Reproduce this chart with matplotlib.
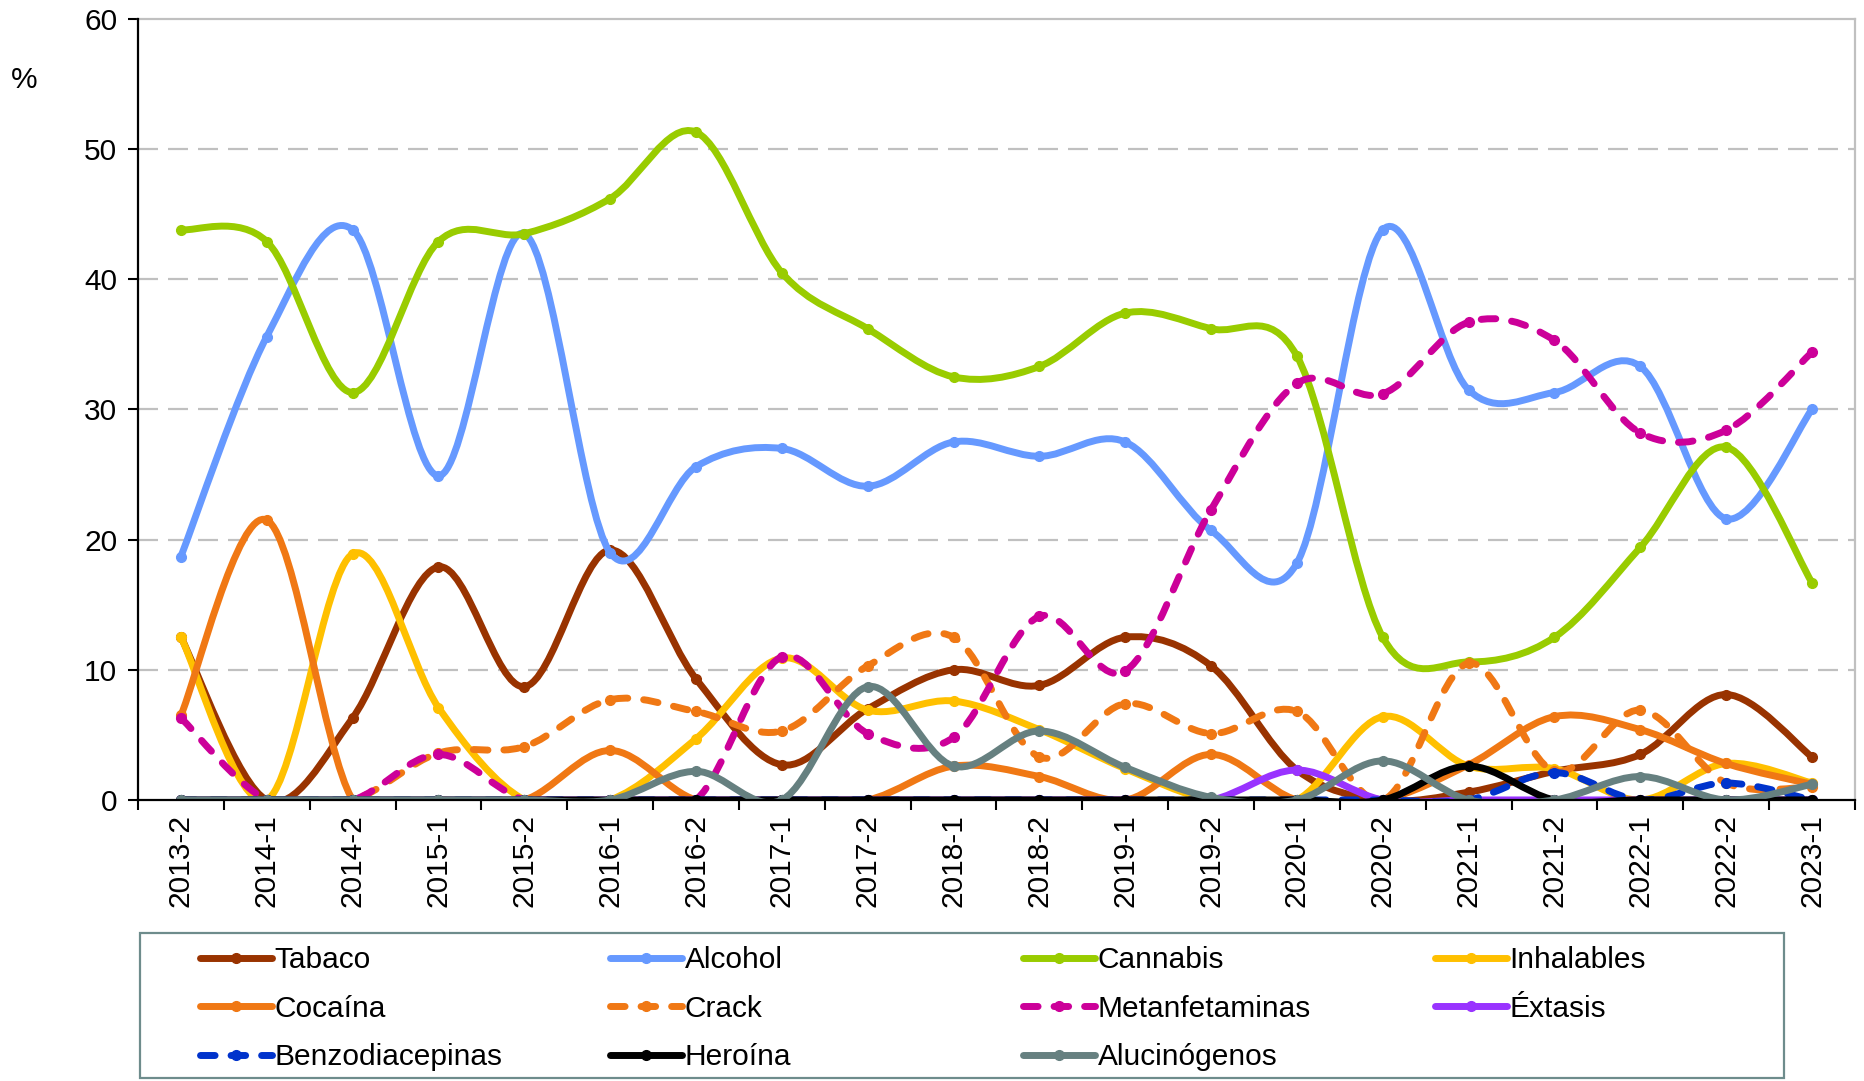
import matplotlib
matplotlib.use('Agg')
import numpy as np
import matplotlib.pyplot as plt
from matplotlib.path import Path
from matplotlib.patches import PathPatch, Rectangle
from matplotlib.lines import Line2D

plt.rcParams['font.family'] = ['Liberation Sans', 'DejaVu Sans']

# Datos
periodos = ['2013-2', '2014-1', '2014-2', '2015-1', '2015-2', '2016-1', '2016-2',
            '2017-1', '2017-2', '2018-1', '2018-2', '2019-1', '2019-2', '2020-1',
            '2020-2', '2021-1', '2021-2', '2022-1', '2022-2', '2023-1']

tabaco = [12.5, 0, 6.3, 17.9, 8.7, 19.2, 9.3, 2.7, 7.0, 10.0, 8.8, 12.5, 10.3, 2.3,
          0, 0.6, 2.2, 3.5, 8.1, 3.3]
alcohol = [18.7, 35.6, 43.8, 24.9, 43.5, 19.0, 25.6, 27.0, 24.1, 27.5, 26.4, 27.5, 20.7,
           18.2, 43.8, 31.5, 31.3, 33.3, 21.6, 30.0]
cannabis = [43.8, 42.9, 31.3, 42.9, 43.5, 46.2, 51.3, 40.5, 36.2, 32.5, 33.3, 37.4, 36.2,
            34.1, 12.5, 10.6, 12.5, 19.4, 27.1, 16.7]
inhalables = [12.5, 0, 18.9, 7.1, 0, 0, 4.7, 10.9, 6.9, 7.6, 5.4, 2.4, 0, 0, 6.4, 2.6,
              2.4, 0, 2.8, 1.3]
cocaina = [6.5, 21.5, 0, 0, 0, 3.8, 0, 0, 0, 2.6, 1.8, 0, 3.5, 0, 0, 2.7, 6.4, 5.4, 2.8, 1.2]
crack = [0, 0, 0, 3.6, 4.1, 7.7, 6.8, 5.3, 10.3, 12.5, 3.3, 7.4, 5.1, 6.8, 0, 10.5, 2.2,
         6.9, 1.3, 1.0]
metanfetaminas = [6.3, 0, 0, 3.5, 0, 0, 0, 11.0, 5.1, 4.8, 14.1, 9.9, 22.3, 32.0, 31.2,
                  36.7, 35.3, 28.2, 28.4, 34.4]
extasis = [0, 0, 0, 0, 0, 0, 0, 0, 0, 0, 0, 0, 0, 2.3, 0, 0, 0, 0, 0, 0]
benzodiacepinas = [0, 0, 0, 0, 0, 0, 0, 0, 0, 0, 0, 0, 0, 0, 0, 0, 2.1, 0, 1.3, 0]
heroina = [0, 0, 0, 0, 0, 0, 0, 0, 0, 0, 0, 0, 0, 0, 0, 2.6, 0, 0, 0, 0]
alucinogenos = [0, 0, 0, 0, 0, 0, 2.2, 0, 8.7, 2.6, 5.3, 2.5, 0.2, 0, 3.0, 0, 0, 1.8, 0, 1.2]

series = [
    ('Tabaco', tabaco, '#993300', '-'),
    ('Alcohol', alcohol, '#6699FF', '-'),
    ('Cannabis', cannabis, '#99CC00', '-'),
    ('Inhalables', inhalables, '#FFC000', '-'),
    ('Cocaína', cocaina, '#F07814', '-'),
    ('Crack', crack, '#F07814', '--'),
    ('Metanfetaminas', metanfetaminas, '#CC0099', '--'),
    ('Éxtasis', extasis, '#9933FF', '-'),
    ('Benzodiacepinas', benzodiacepinas, '#0033CC', '--'),
    ('Heroína', heroina, '#000000', '-'),
    ('Alucinógenos', alucinogenos, '#668080', '-'),
]

LW = 5.0
DASH = (2.1, 2.3)
FS = 21.5
W, H = 1865, 1081


def suavizar(x, y):
    # curva suavizada tipo Excel (Bezier cubica)
    n = len(x)
    pts = np.column_stack([x, y]).astype(float)
    verts = [pts[0]]
    codes = [Path.MOVETO]
    for i in range(n - 1):
        p0 = pts[max(i - 1, 0)]
        p1 = pts[i]
        p2 = pts[i + 1]
        p3 = pts[min(i + 2, n - 1)]
        c1 = p1 + (p2 - p0) / 6.0
        c2 = p2 - (p3 - p1) / 6.0
        verts += [c1, c2, p2]
        codes += [Path.CURVE4] * 3
    return Path(verts, codes)


fig = plt.figure(figsize=(W / 100, H / 100), dpi=100)
ax = fig.add_axes([0.074, 0.26, 0.9206, 0.7225])

x = np.arange(len(periodos))
handles = []
for nombre, vals, color, ls in series:
    patch = PathPatch(suavizar(x, vals), facecolor='none', edgecolor=color, lw=LW,
                      capstyle='round', joinstyle='round', zorder=3)
    if ls == '--':
        patch.set_linestyle((0, DASH))
    ax.add_patch(patch)
    ax.plot(x, vals, linestyle='none', marker='o', markersize=7, color=color, zorder=3)
    h = Line2D([], [], color=color, lw=LW, marker='o', markersize=7,
               dash_capstyle='round', solid_capstyle='round')
    if ls == '--':
        h.set_dashes(DASH)
    handles.append(h)

ax.set_xlim(-0.5, len(periodos) - 0.5)
ax.set_ylim(0, 60)

# ejes
ax.set_yticks(range(0, 61, 10))
ax.tick_params(axis='y', labelsize=FS, length=7, width=1.5, direction='out', pad=8)
ax.set_xticks(x)
ax.set_xticklabels(periodos, rotation=90, fontsize=FS)
ax.tick_params(axis='x', which='major', length=0, pad=10)
ax.set_xticks(np.arange(-0.5, len(periodos), 1.0), minor=True)
ax.tick_params(axis='x', which='minor', length=7, width=1.5, direction='out')

for y in range(10, 60, 10):
    ax.axhline(y, color='#C0C0C0', lw=1.6, linestyle=(0, (9, 4.5)), zorder=1)

for s in ['left', 'bottom']:
    ax.spines[s].set_linewidth(1.6)
    ax.spines[s].set_color('black')
    ax.spines[s].set_zorder(4)
for s in ['top', 'right']:
    ax.spines[s].set_linewidth(1.6)
    ax.spines[s].set_color('#C0C0C0')

fig.text(24 / W, 1 - 80 / H, '%', fontsize=FS, ha='center', va='center')

# leyenda: marco y cuatro columnas de igual ancho (orden por filas)
fig.patches.append(Rectangle((140 / W, 1 - 1078 / H), 1644 / W, 145 / H,
                             transform=fig.transFigure, facecolor='white',
                             edgecolor='#6E8C8C', lw=1.6, zorder=0))
col_x = [200, 610, 1023, 1435]
for c in range(4):
    idx = list(range(c, len(series), 4))
    leg = fig.legend([handles[i] for i in idx], [series[i][0] for i in idx],
                     loc='upper left', bbox_to_anchor=(col_x[c] / W, 1 - 946 / H),
                     fontsize=FS, frameon=False, handlelength=2.4,
                     handletextpad=0.1, labelspacing=0.69, borderaxespad=0,
                     borderpad=0, numpoints=1)

fig.savefig('out.png', dpi=100)
